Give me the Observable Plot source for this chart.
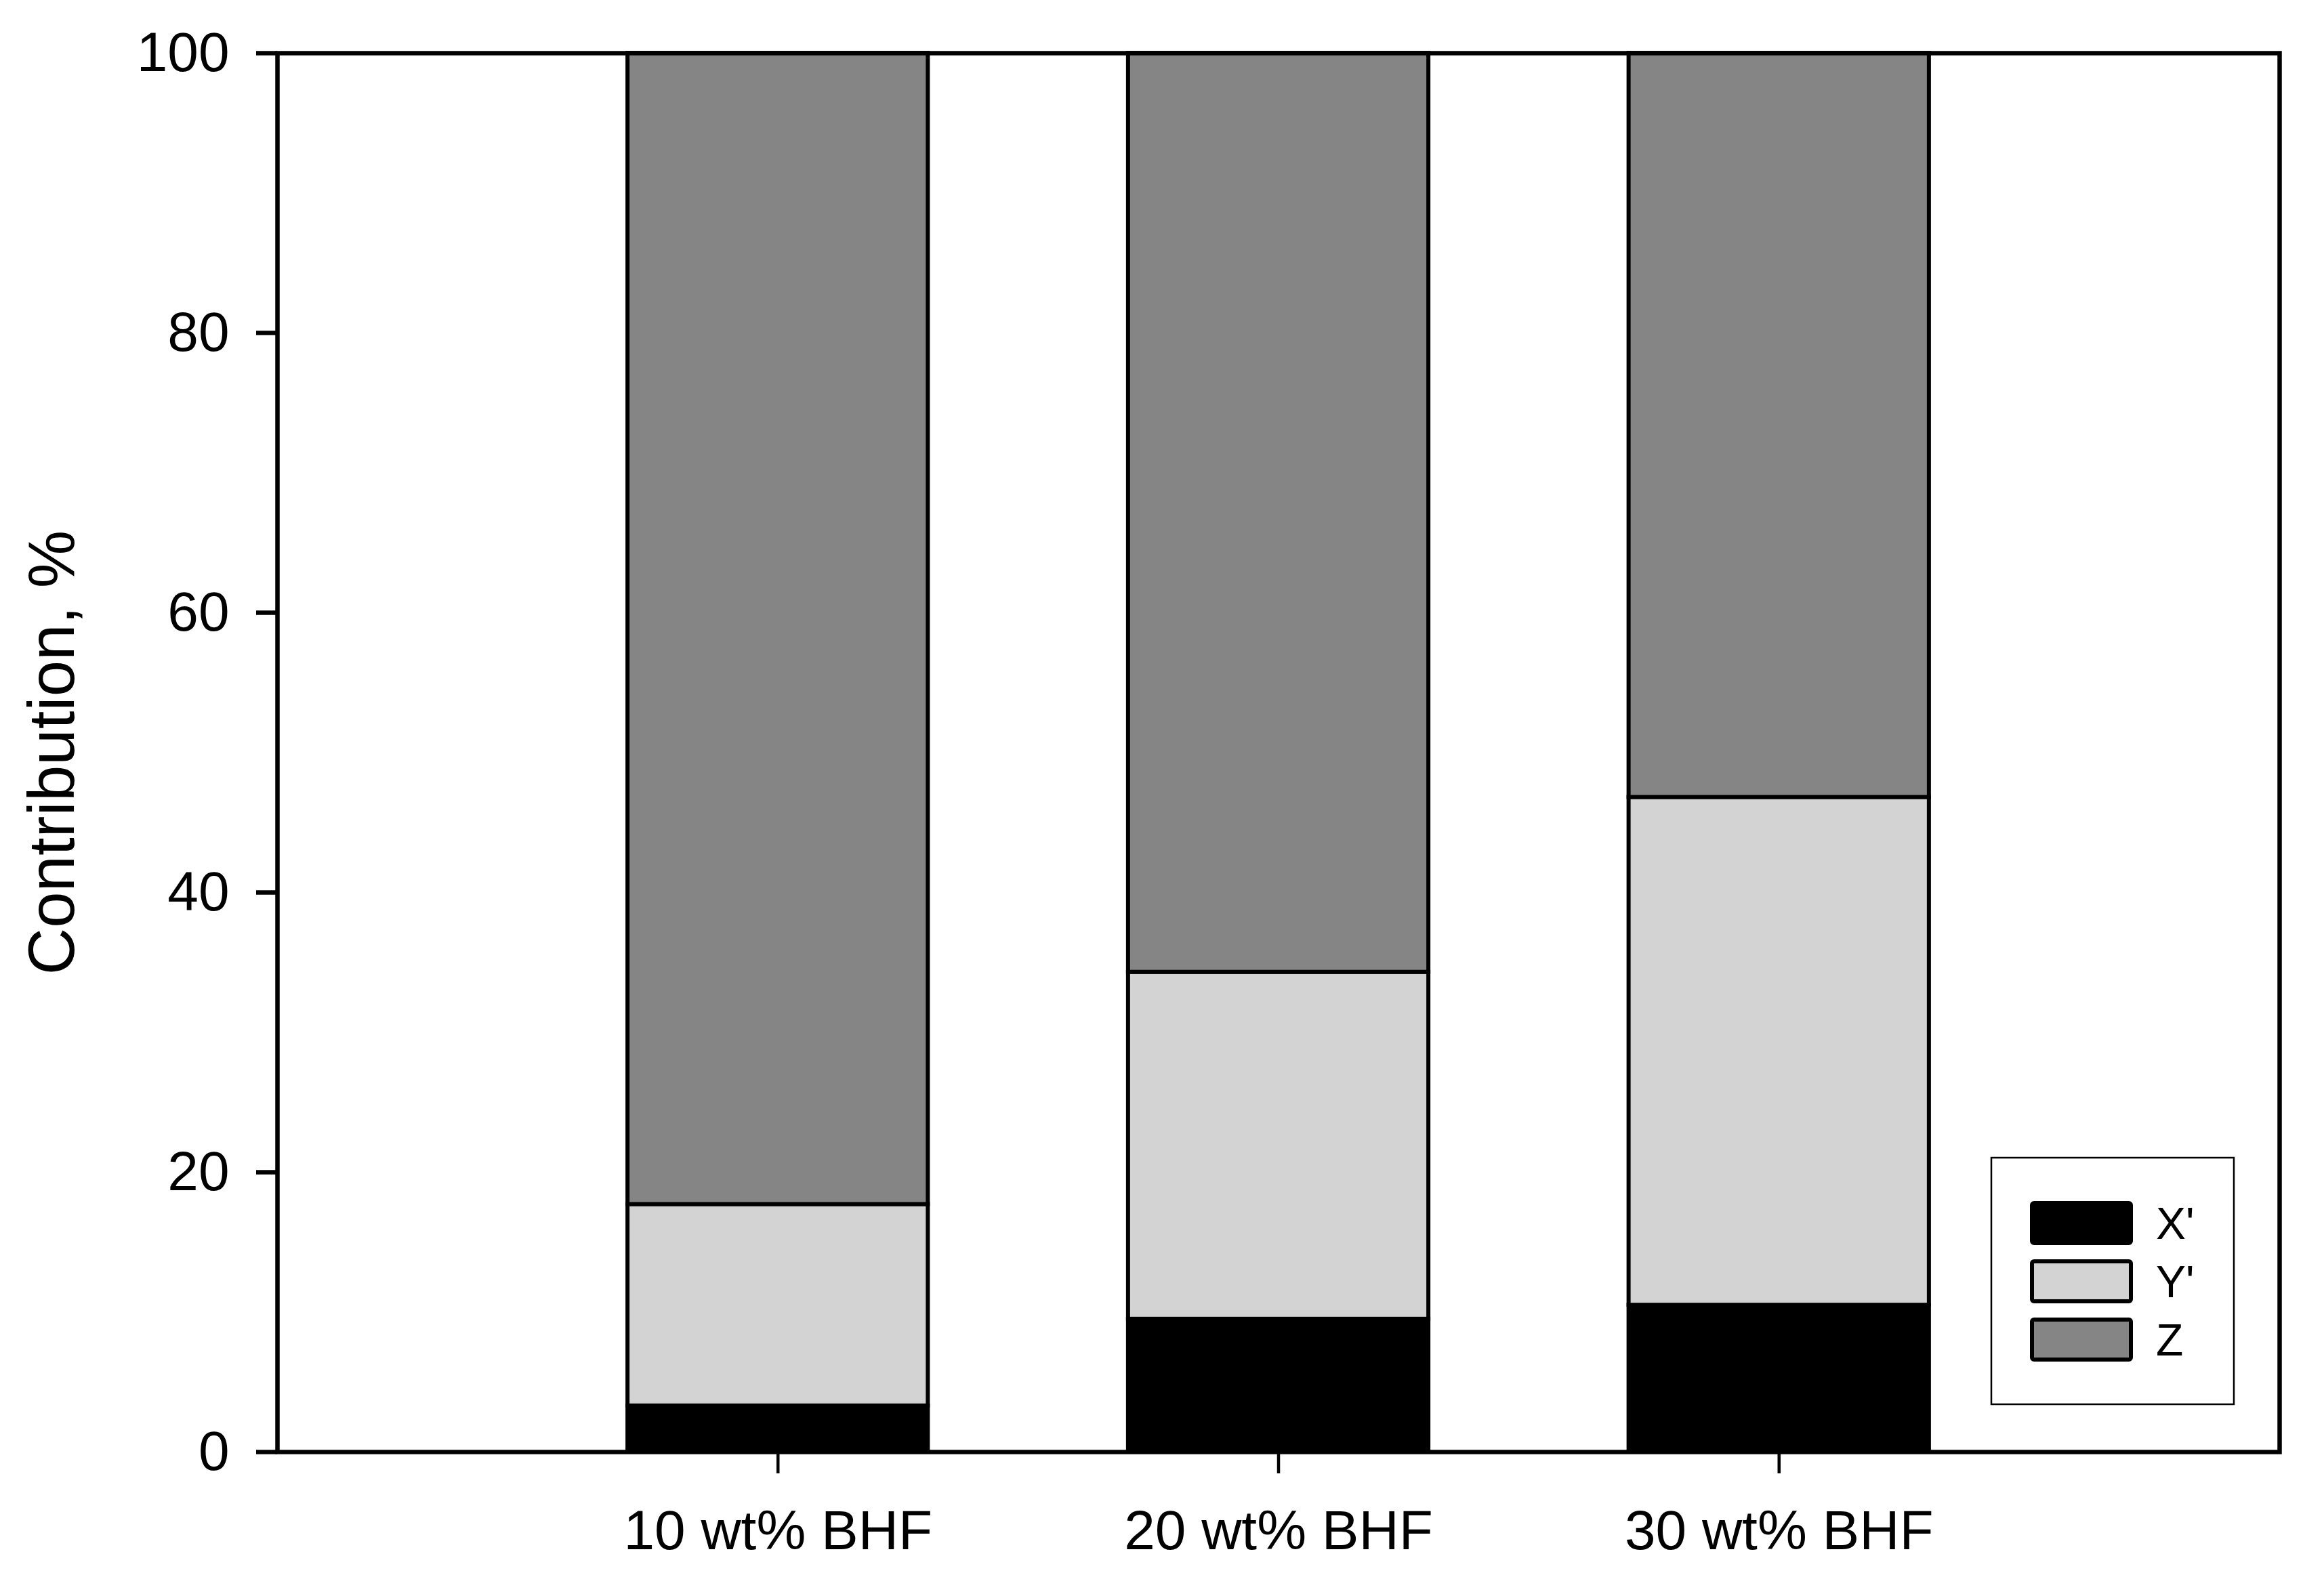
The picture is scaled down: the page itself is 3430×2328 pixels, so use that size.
<!DOCTYPE html>
<html><head><meta charset="utf-8">
<script src="https://cdn.jsdelivr.net/npm/d3@7"></script>
<script src="https://cdn.jsdelivr.net/npm/@observablehq/plot@0.6"></script>
<style>html,body{margin:0;padding:0;background:#fff}</style>
</head><body><div id="chart"></div>
<script>
const categories = ["10 wt% BHF", "20 wt% BHF", "30 wt% BHF"];
const positions = [1, 2, 3];
const seriesNames = ["X'", "Y'", "Z"];
const xPrime = [3.3, 9.5, 10.5];
const yPrime = [14.4, 24.8, 36.3];
const zValues = [82.3, 65.7, 53.2];
const seriesColors = ["#000000", "#d3d3d3", "#858585"];
const yTicks = [0, 20, 40, 60, 80, 100];
const yLabel = "Contribution, %";

const seriesValues = [xPrime, yPrime, zValues];
const table = [];
categories.forEach((c, i) => seriesNames.forEach((s, j) =>
  table.push({category: c, pos: positions[i], series: s, value: seriesValues[j][i]})));

const barHalf = 0.3;
const font = "'Liberation Sans', Arial, sans-serif";

const plot = Plot.plot({
  width: 3430, height: 2328,
  marginLeft: 409, marginRight: 66, marginTop: 78, marginBottom: 185,
  style: {fontFamily: font, background: "white", color: "black"},
  x: {domain: [0, 4]},
  y: {domain: [0, 100]},
  color: {domain: seriesNames, range: seriesColors},
  marks: [
    Plot.rect(table, Plot.stackY({
      x: "pos", y: "value", z: "series",
      x1: d => d.pos - barHalf, x2: d => d.pos + barHalf,
      fill: "series", stroke: "black", strokeWidth: 6
    })),
    Plot.frame({stroke: "black", strokeWidth: 6.5}),
    Plot.axisY({ticks: yTicks, tickSize: 31, tickPadding: 40, strokeWidth: 6.5, fontSize: 82, label: null}),
    Plot.axisX({ticks: positions, tickFormat: d => categories[d - 1], tickSize: 32, tickPadding: 53, strokeWidth: 4.5, fontSize: 82, label: null}),
    Plot.text([yLabel], {text: d => d, frameAnchor: "left", rotate: -90, textAnchor: "middle", lineAnchor: "bottom", dx: -301, fontSize: 96, fill: "black"})
  ]
});
document.getElementById("chart").appendChild(plot);

// Legend (inside plot area, lower right)
const svg = d3.select(plot);
const lg = svg.append("g").attr("font-family", font).attr("text-anchor", "start");
lg.append("rect").attr("x", 2939).attr("y", 1709).attr("width", 358).attr("height", 364)
  .attr("fill", "white").attr("stroke", "black").attr("stroke-width", 2.5);
seriesNames.forEach((s, i) => {
  const y = 1776 + i * 86;
  lg.append("rect").attr("x", 2999).attr("y", y).attr("width", 146).attr("height", 59).attr("rx", 3)
    .attr("fill", seriesColors[i]).attr("stroke", "black").attr("stroke-width", 6);
  lg.append("text").attr("x", 3182).attr("y", y + 29.5).attr("dy", "0.36em")
    .attr("text-anchor", "start").attr("font-size", 66).attr("fill", "black").text(s);
});
</script>
</body></html>
